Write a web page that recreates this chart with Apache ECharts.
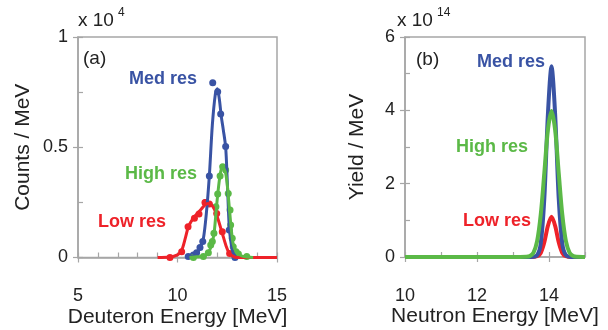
<!DOCTYPE html>
<html>
<head>
<meta charset="utf-8">
<script src="https://cdn.jsdelivr.net/npm/echarts@6/dist/echarts.min.js"></script>
<style>
  html, body { margin: 0; padding: 0; background: #fff; }
  #chart { width: 608px; height: 330px; }
</style>
</head>
<body>
<div id="chart"></div>
<script>
// (a) measured deuteron spectra, [energy MeV, counts/MeV in 1e4]
const medResPoints = [
    [10.54, 0.004], [10.8, 0.011], [10.96, 0.022], [11.13, 0.045], [11.27, 0.072],
    [11.42, 0.25], [11.6, 0.37], [11.77, 0.793], [12.02, 0.752], [12.17, 0.651],
    [12.42, 0.503], [12.6, 0.125], [12.89, 0.0]
];
const highResPoints = [
    [10.8, 0.0], [11.3, 0.004], [11.55, 0.022], [11.67, 0.057], [11.75, 0.072],
    [11.83, 0.11], [11.93, 0.23], [12.02, 0.288], [12.14, 0.37], [12.27, 0.412],
    [12.42, 0.397], [12.55, 0.29], [12.64, 0.215], [12.67, 0.147], [12.75, 0.087],
    [12.8, 0.049], [12.94, 0.026], [13.06, 0.016], [13.48, 0.004]
];
const lowResPoints = [
    [9.62, 0.0], [10.21, 0.026], [10.53, 0.14], [10.85, 0.178], [11.08, 0.197],
    [11.38, 0.25], [11.6, 0.243], [11.97, 0.2], [12.25, 0.117], [12.62, 0.018]
];

// (a) fitted curves
const medResFit = [
    [10.5, 0], [10.8, 0.008], [11.0, 0.025], [11.15, 0.045], [11.3, 0.085],
    [11.45, 0.2], [11.6, 0.37], [11.75, 0.6], [11.9, 0.74], [12.0, 0.765],
    [12.1, 0.72], [12.2, 0.64], [12.3, 0.58], [12.42, 0.5], [12.5, 0.35],
    [12.6, 0.14], [12.7, 0.06], [12.8, 0.02], [12.95, 0]
];
const highResFit = [
    [10.6, 0], [11.0, 0.003], [11.4, 0.01], [11.6, 0.03], [11.75, 0.07],
    [11.85, 0.12], [11.95, 0.22], [12.05, 0.31], [12.15, 0.38], [12.25, 0.41],
    [12.4, 0.39], [12.5, 0.33], [12.6, 0.23], [12.7, 0.13], [12.8, 0.06],
    [12.95, 0.025], [13.2, 0.008], [13.5, 0.002], [13.8, 0]
];
const lowResFit = [
    [9.0, 0], [9.6, 0.002], [10.0, 0.012], [10.2, 0.03], [10.4, 0.09],
    [10.55, 0.14], [10.8, 0.18], [11.0, 0.2], [11.2, 0.22], [11.4, 0.24],
    [11.55, 0.245], [11.7, 0.24], [11.9, 0.21], [12.05, 0.17], [12.25, 0.11],
    [12.45, 0.05], [12.6, 0.02], [12.8, 0.005], [13.0, 0], [15.0, 0]
];

// (b) neutron yield, [energy MeV, yield/MeV in 1e14]
const medYield = [
    [10, 0], [13.5, 0], [13.67, 0.05], [13.77, 0.36], [13.87, 1.6], [13.97, 3.9],
    [14.07, 5.2], [14.17, 3.9], [14.27, 1.6], [14.37, 0.36], [14.47, 0.05], [14.64, 0], [15, 0]
];
const highYield = [
    [10, 0], [13.2, 0], [13.37, 0.004], [13.47, 0.027], [13.57, 0.12], [13.67, 0.43],
    [13.77, 1.15], [13.87, 2.29], [13.97, 3.47], [14.07, 3.98], [14.17, 3.47],
    [14.27, 2.29], [14.37, 1.15], [14.47, 0.43], [14.57, 0.12], [14.67, 0.027],
    [14.77, 0.004], [14.94, 0], [15, 0]
];
const lowYield = [
    [10, 0], [13.5, 0], [13.67, 0.02], [13.77, 0.11], [13.87, 0.4], [13.97, 0.85],
    [14.07, 1.1], [14.17, 0.85], [14.27, 0.4], [14.37, 0.11], [14.47, 0.02], [14.64, 0], [15, 0]
];

const BLUE = '#3953a4';
const GREEN = '#5bb947';
const RED = '#ee2229';
const AXIS = '#a6a6a6';
const FONT = 'Liberation Sans';
const TXT = '#222';

const chart = echarts.init(document.getElementById('chart'));

function majorAxis(grid, pos, min, max, interval, name, gap, margin) {
    return {
        gridIndex: grid, type: 'value', position: pos, min: min, max: max, interval: interval,
        axisLine: { lineStyle: { color: AXIS, width: 1.5 } },
        axisTick: { length: 5, lineStyle: { color: AXIS, width: 1.2 } },
        splitLine: { show: false },
        axisLabel: { fontSize: 18, color: TXT, fontFamily: FONT, margin: margin, showMaxLabel: max !== 15 || interval === 5 },
        name: name, nameLocation: 'middle', nameGap: gap, nameMoveOverlap: false,
        nameTextStyle: { fontSize: 21, color: TXT, fontFamily: FONT }
    };
}
function minorAxis(grid, pos, min, max, interval) {
    return {
        gridIndex: grid, type: 'value', position: pos, min: min, max: max, interval: interval,
        axisLine: { show: false },
        axisTick: { inside: true, length: 5, lineStyle: { color: AXIS, width: 1.2 } },
        axisLabel: { show: false },
        splitLine: { show: false }
    };
}

function fitLine(data, color, width, xi, yi) {
    return {
        type: 'line', data: data, xAxisIndex: xi, yAxisIndex: yi,
        smooth: 0.3, showSymbol: false, silent: true,
        lineStyle: { color: color, width: width }
    };
}
function dots(data, color) {
    return {
        type: 'scatter', data: data, xAxisIndex: 0, yAxisIndex: 0,
        symbolSize: 7, itemStyle: { color: color, opacity: 1 }
    };
}

const labelFont = 'bold 18px "' + FONT + '"';

const option = {
    animation: false,
    grid: [
        { left: 78, top: 37, width: 199, bottom: 72.5, show: true, borderColor: AXIS, borderWidth: 1.5, outerBoundsMode: 'none' },
        { left: 405, top: 37, width: 180, bottom: 73, show: true, borderColor: AXIS, borderWidth: 1.5, outerBoundsMode: 'none' }
    ],
    xAxis: [
        majorAxis(0, 'bottom', 5, 15, 5, 'Deuteron Energy [MeV]', 49, 30),
        minorAxis(0, 'bottom', 5, 15, 1),
        majorAxis(1, 'bottom', 10, 15, 2, 'Neutron Energy [MeV]', 49, 30),
        minorAxis(1, 'bottom', 10, 15, 1)
    ],
    yAxis: [
        majorAxis(0, 'left', 0, 1, 0.5, 'Counts / MeV', 44, 10),
        minorAxis(0, 'left', 0, 1, 0.25),
        majorAxis(1, 'left', 0, 6, 2, 'Yield / MeV', 37, 10),
        minorAxis(1, 'left', 0, 6, 1)
    ],
    series: [
        fitLine(medResFit, BLUE, 3, 0, 0),
        dots(medResPoints, BLUE),
        fitLine(lowResFit, RED, 3, 0, 0),
        dots(lowResPoints, RED),
        fitLine(highResFit, GREEN, 3, 0, 0),
        dots(highResPoints, GREEN),
        fitLine(lowYield, RED, 4, 2, 2),
        fitLine(medYield, BLUE, 4, 2, 2),
        fitLine(highYield, GREEN, 4, 2, 2)
    ],
    graphic: [
        { type: 'text', x: 78, y: 21, style: { text: 'x 10', font: '19px "' + FONT + '"', fill: TXT, verticalAlign: 'middle' } },
        { type: 'text', x: 118, y: 13, style: { text: '4', font: '12px "' + FONT + '"', fill: TXT, verticalAlign: 'middle' } },
        { type: 'text', x: 397, y: 21, style: { text: 'x 10', font: '19px "' + FONT + '"', fill: TXT, verticalAlign: 'middle' } },
        { type: 'text', x: 437, y: 13, style: { text: '14', font: '12px "' + FONT + '"', fill: TXT, verticalAlign: 'middle' } },
        { type: 'text', x: 83, y: 59, style: { text: '(a)', font: '19px "' + FONT + '"', fill: TXT, verticalAlign: 'middle' } },
        { type: 'text', x: 416, y: 60, style: { text: '(b)', font: '19px "' + FONT + '"', fill: TXT, verticalAlign: 'middle' } },
        { type: 'text', x: 197, y: 79, style: { text: 'Med res', font: labelFont, fill: BLUE, align: 'right', verticalAlign: 'middle' } },
        { type: 'text', x: 197, y: 174, style: { text: 'High res', font: labelFont, fill: GREEN, align: 'right', verticalAlign: 'middle' } },
        { type: 'text', x: 166, y: 222, style: { text: 'Low res', font: labelFont, fill: RED, align: 'right', verticalAlign: 'middle' } },
        { type: 'text', x: 545, y: 62, style: { text: 'Med res', font: labelFont, fill: BLUE, align: 'right', verticalAlign: 'middle' } },
        { type: 'text', x: 528, y: 147, style: { text: 'High res', font: labelFont, fill: GREEN, align: 'right', verticalAlign: 'middle' } },
        { type: 'text', x: 531, y: 221, style: { text: 'Low res', font: labelFont, fill: RED, align: 'right', verticalAlign: 'middle' } }
    ]
};

chart.setOption(option);
</script>
</body>
</html>
